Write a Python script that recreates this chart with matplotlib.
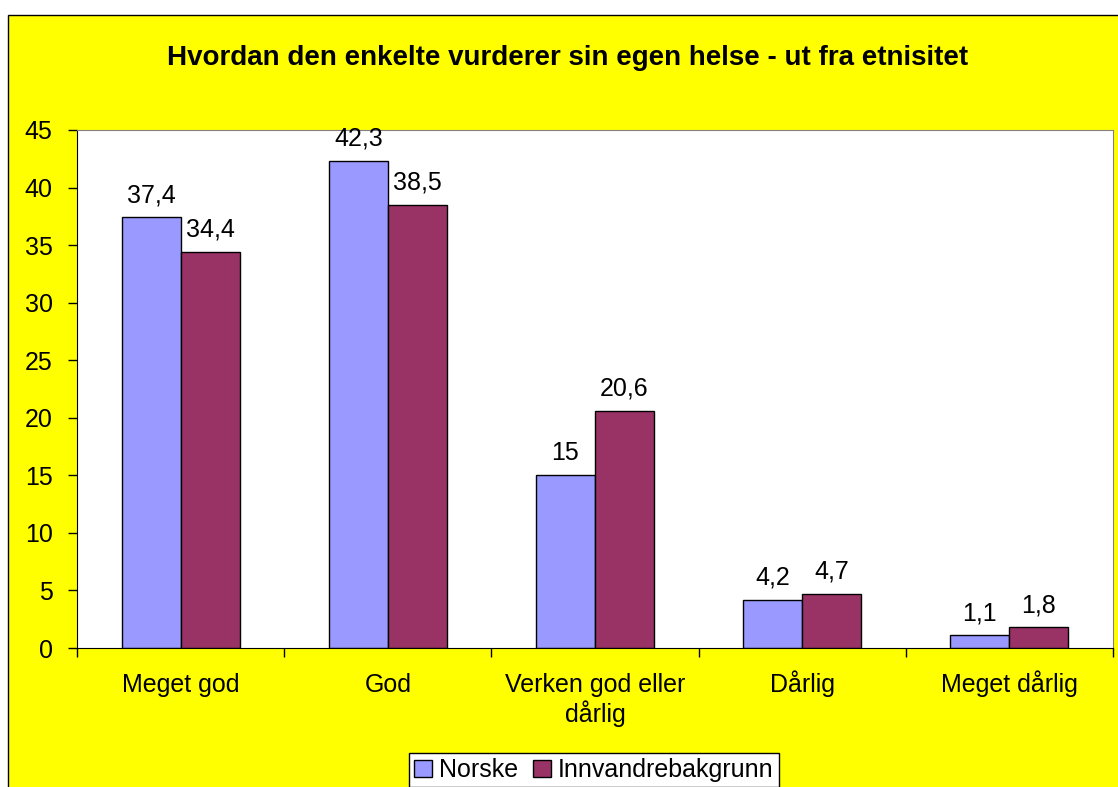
import matplotlib
matplotlib.use("Agg")
import matplotlib.pyplot as plt
from matplotlib.patches import Rectangle
import numpy as np

plt.rcParams['font.family'] = ['Liberation Sans', 'DejaVu Sans']

categories = ['Meget god', 'God', 'Verken god eller\ndårlig', 'Dårlig', 'Meget dårlig']
norske = [37.4, 42.3, 15, 4.2, 1.1]
innvandre = [34.4, 38.5, 20.6, 4.7, 1.8]
series_names = ['Norske', 'Innvandrebakgrunn']
colors = ['#9999FF', '#993366']

W, H = 1118, 787
fig = plt.figure(figsize=(W / 100, H / 100), dpi=100)
fig.patch.set_facecolor('white')

# yellow chart area with black frame (runs off the right and bottom)
fig.patches.append(Rectangle((8 / W, -0.1), 1.2, (H - 15) / H + 0.1,
                             transform=fig.transFigure, facecolor='#FFFF00',
                             edgecolor='black', linewidth=1, zorder=-5))

ax = fig.add_axes([77 / W, 1 - 648 / H, (1113 - 77) / W, (648 - 130) / H])
ax.set_facecolor('white')

x = np.arange(len(categories))
bw = 0.285
b1 = ax.bar(x - bw / 2, norske, bw, color=colors[0], edgecolor='black', linewidth=1, label=series_names[0])
b2 = ax.bar(x + bw / 2, innvandre, bw, color=colors[1], edgecolor='black', linewidth=1, label=series_names[1])

fs = 18
for bars, vals in ((b1, norske), (b2, innvandre)):
    for b, v in zip(bars, vals):
        lbl = ('%g' % v).replace('.', ',')
        ax.annotate(lbl, (b.get_x() + b.get_width() / 2, v), xytext=(0, 11),
                    textcoords='offset points', ha='center', va='baseline', fontsize=fs)

ax.set_xlim(-0.5, len(categories) - 0.5)
ax.set_ylim(0, 45)
ax.set_yticks(range(0, 46, 5))

# category names drawn line by line so every first line shares one baseline
ax.set_xticks(x)
ax.set_xticklabels([])
ax.tick_params(axis='x', which='major', length=0)
for xi, name in zip(x, categories):
    for i, line in enumerate(name.split('\n')):
        ax.annotate(line, (xi, 0), xytext=(0, -31.7 - i * 21.6), textcoords='offset points',
                    ha='center', va='baseline', fontsize=fs, annotation_clip=False)

ax.set_xticks(np.arange(-0.5, len(categories), 1), minor=True)
ax.tick_params(axis='x', which='minor', length=6.5, direction='out', width=1)
ax.tick_params(axis='y', length=6.5, direction='out', width=1, labelsize=fs, pad=11)

for s in ('top', 'right'):
    ax.spines[s].set_color('#808080')
for s in ('left', 'bottom'):
    ax.spines[s].set_color('black')

fig.text(568 / W, 1 - 58 / H, 'Hvordan den enkelte vurderer sin egen helse - ut fra etnisitet',
         ha='center', va='center', fontsize=20, fontweight='bold')

leg = fig.legend(loc='upper left', bbox_to_anchor=(409 / W, 1 - 753 / H), ncol=2,
                 fontsize=fs, frameon=True, fancybox=False, edgecolor='black',
                 facecolor='white', framealpha=1,
                 handlelength=0.7, handleheight=0.7, handletextpad=0.3,
                 columnspacing=0.6, borderpad=0.2, borderaxespad=0)
leg.get_frame().set_linewidth(1)

fig.savefig('out.png', dpi=100, facecolor=fig.get_facecolor())
